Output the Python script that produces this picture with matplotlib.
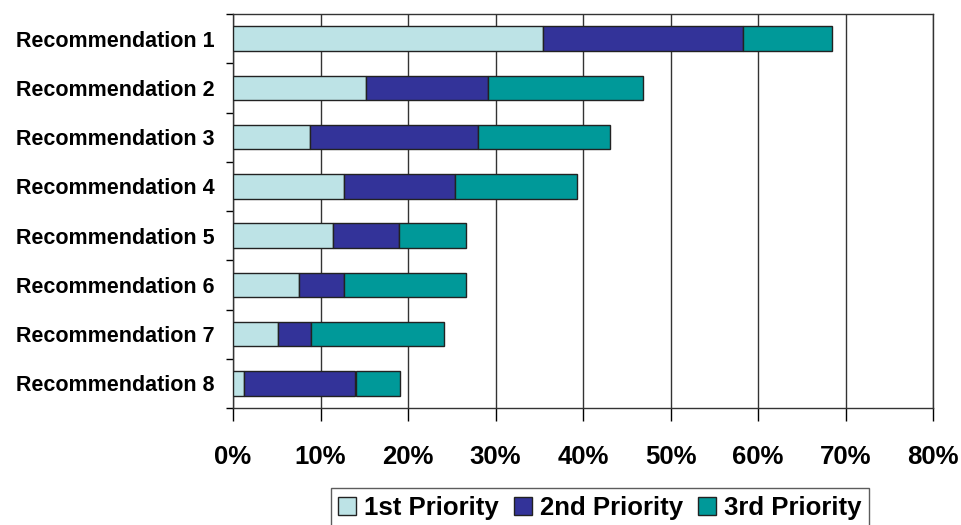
import numpy as np
import matplotlib.pyplot as plt
from matplotlib.ticker import FixedLocator, PercentFormatter

plt.rcParams['font.family'] = ['Liberation Sans', 'DejaVu Sans']
plt.rcParams['font.weight'] = 'bold'

recommendations = ["Recommendation 1", "Recommendation 2", "Recommendation 3",
                   "Recommendation 4", "Recommendation 5", "Recommendation 6",
                   "Recommendation 7", "Recommendation 8"]
priority_names = ["1st Priority", "2nd Priority", "3rd Priority"]

# share of responses (%) per priority level
first = [35.4, 15.2, 8.8, 12.7, 11.4, 7.5, 5.1, 1.3]
second = [22.9, 13.9, 19.2, 12.7, 7.6, 5.2, 3.8, 12.7]
third = [10.1, 17.7, 15.1, 13.9, 7.6, 13.9, 15.2, 5.1]

colors = ["#BDE3E6", "#333399", "#009999"]

fig = plt.figure(figsize=(9.61, 5.25), dpi=100)
ax = fig.add_axes([233 / 961, 117 / 525, 700 / 961, 394 / 525])

y = np.arange(len(recommendations))
left = np.zeros(len(recommendations))
for vals, name, col in zip([first, second, third], priority_names, colors):
    ax.barh(y, vals, left=left, height=0.5, color=col, edgecolor="#222222",
            linewidth=1.0, label=name, zorder=3)
    left += np.array(vals)

ax.set_xlim(0, 80)
ax.set_ylim(len(recommendations) - 0.5, -0.5)
ax.xaxis.set_major_locator(FixedLocator(np.arange(0, 81, 10)))
ax.xaxis.set_major_formatter(PercentFormatter(decimals=0))
ax.grid(axis="x", color="#333333", linewidth=1.0, zorder=0)

ax.set_yticks(y)
ax.set_yticklabels(recommendations, fontsize=15.5, fontweight="bold")
ax.yaxis.set_minor_locator(FixedLocator(np.arange(-0.5, len(recommendations), 1)))
ax.tick_params(axis="y", which="major", length=0, pad=13)
ax.tick_params(axis="y", which="minor", length=5, width=1, direction="out")
ax.tick_params(axis="x", length=9, width=1, direction="out", pad=18,
               labelsize=18.5)
for lbl in ax.get_xticklabels():
    lbl.set_fontweight("bold")

for side in ["left", "bottom", "top", "right"]:
    ax.spines[side].set_color("#333333")
    ax.spines[side].set_linewidth(1.0)

leg = fig.legend(loc="upper center", bbox_to_anchor=(600 / 961, 1 - 488 / 525),
                 ncol=3, frameon=True, fancybox=False, edgecolor="#333333",
                 prop={"size": 18.5, "weight": "bold"}, handlelength=0.7,
                 handleheight=0.7, handletextpad=0.3, columnspacing=0.6,
                 borderpad=0.3, borderaxespad=0)
leg.get_frame().set_linewidth(1.0)

fig.savefig("out.png", dpi=100)
